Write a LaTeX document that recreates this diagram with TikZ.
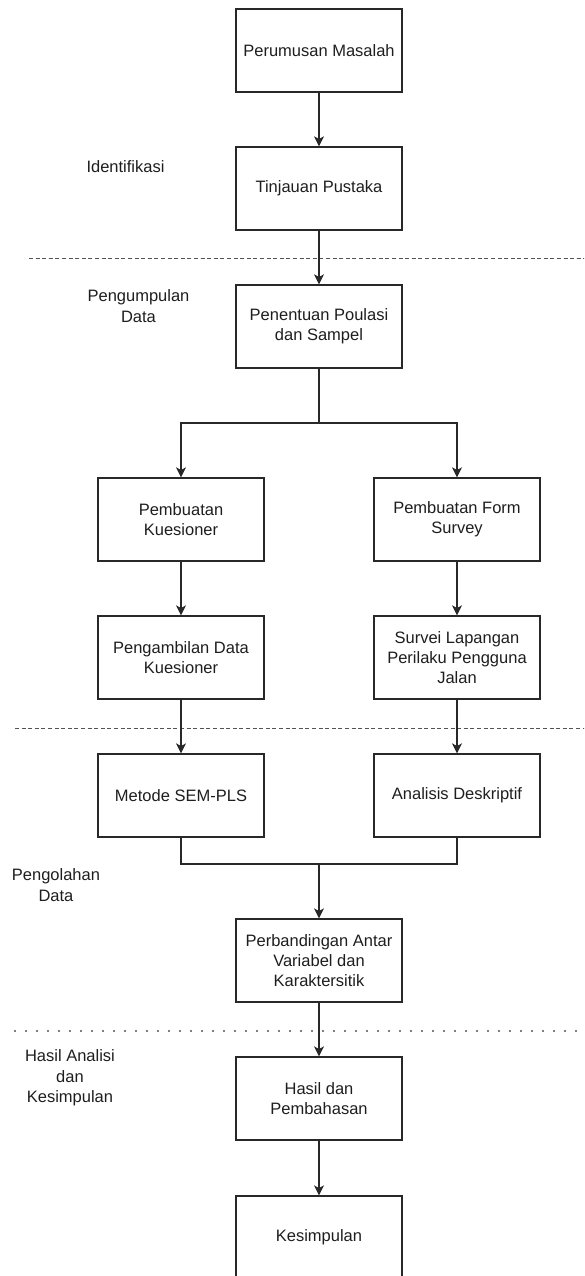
\documentclass[tikz,border=0pt]{standalone}
\usepackage{fontspec}
\setmainfont{Liberation Sans}
\usetikzlibrary{arrows.meta}
\definecolor{ln}{RGB}{40,40,40}
\definecolor{tx}{RGB}{30,30,30}
\tikzset{
  stepbox/.style={draw=ln, line width=1.2pt, minimum width=166pt, minimum height=83pt,
    inner sep=0pt, align=center, text=tx, font=\fontsize{16.5}{20.3}\selectfont},
  lbl/.style={align=center, text=tx, inner sep=0pt, font=\fontsize{16.5}{20.3}\selectfont},
  arr/.style={draw=ln, line width=1.2pt, -{Stealth[length=10pt,width=10pt,inset=2.5pt]}},
  conn/.style={draw=ln, line width=1.2pt},
  sep/.style={draw=ln!80, line width=1pt, dash pattern=on 4pt off 2.6pt},
  dotsep/.style={draw=ln!80, line width=2.2pt, line cap=round, dash pattern=on 0pt off 11pt}
}
\begin{document}
\begin{tikzpicture}[x=1pt,y=-1pt]
\useasboundingbox (0,0) rectangle (584,1276);
\clip (0,0) rectangle (584,1276);
% separators
\coordinate (s1a) at (29,258);  \coordinate (s1b) at (590,258);
\coordinate (s2a) at (15,728);  \coordinate (s2b) at (590,728);
\coordinate (s3a) at (15,1031); \coordinate (s3b) at (590,1031);
\draw[sep] (s1a) -- (s1b);
\draw[sep] (s2a) -- (s2b);
\draw[dotsep] (s3a) -- (s3b);
% boxes
\node[stepbox] (b1) at (319,50.5) {Perumusan Masalah};
\node[stepbox] (b2) at (319,188.5) {Tinjauan Pustaka};
\node[stepbox] (b3) at (319,326.5) {Penentuan Poulasi\\dan Sampel};
\node[stepbox] (k1) at (181,519.5) {Pembuatan\\Kuesioner};
\node[stepbox] (f1) at (457,519.5) {Pembuatan Form\\Survey};
\node[stepbox] (k2) at (181,657.5) {Pengambilan Data\\Kuesioner};
\node[stepbox] (f2) at (457,657.5) {Survei Lapangan\\Perilaku Pengguna\\Jalan};
\node[stepbox] (sem) at (181,795.5) {Metode SEM-PLS};
\node[stepbox] (desk) at (457,795.5) {Analisis Deskriptif};
\node[stepbox] (per) at (319,960.5) {Perbandingan Antar\\Variabel dan\\Karaktersitik};
\node[stepbox] (has) at (319,1098.5) {Hasil dan\\Pembahasan};
\node[stepbox] (kes) at (319,1237.5) {Kesimpulan};
% phase labels
\node[lbl] (l1) at (125.5,167) {Identifikasi};
\node[lbl] (l2) at (138.5,306) {Pengumpulan\\Data};
\node[lbl] (l3) at (56,885) {Pengolahan\\Data};
\node[lbl] (l4) at (70,1078) {Hasil Analisi\\dan\\Kesimpulan};
% connectors
\coordinate (split) at (319,423);
\coordinate (merge) at (319,864);
\draw[arr] (b1) -- (b2);
\draw[arr] (b2) -- (b3);
\draw[conn] (b3.south) -- (split);
\draw[arr] (split) -| (k1.north);
\draw[arr] (split) -| (f1.north);
\draw[arr] (k1) -- (k2);
\draw[arr] (f1) -- (f2);
\draw[arr] (k2) -- (sem);
\draw[arr] (f2) -- (desk);
\draw[conn] (sem.south) |- (merge);
\draw[conn] (desk.south) |- (merge);
\draw[arr] (merge) -- (per.north);
\draw[arr] (per) -- (has);
\draw[arr] (has) -- (kes);
\end{tikzpicture}
\end{document}
